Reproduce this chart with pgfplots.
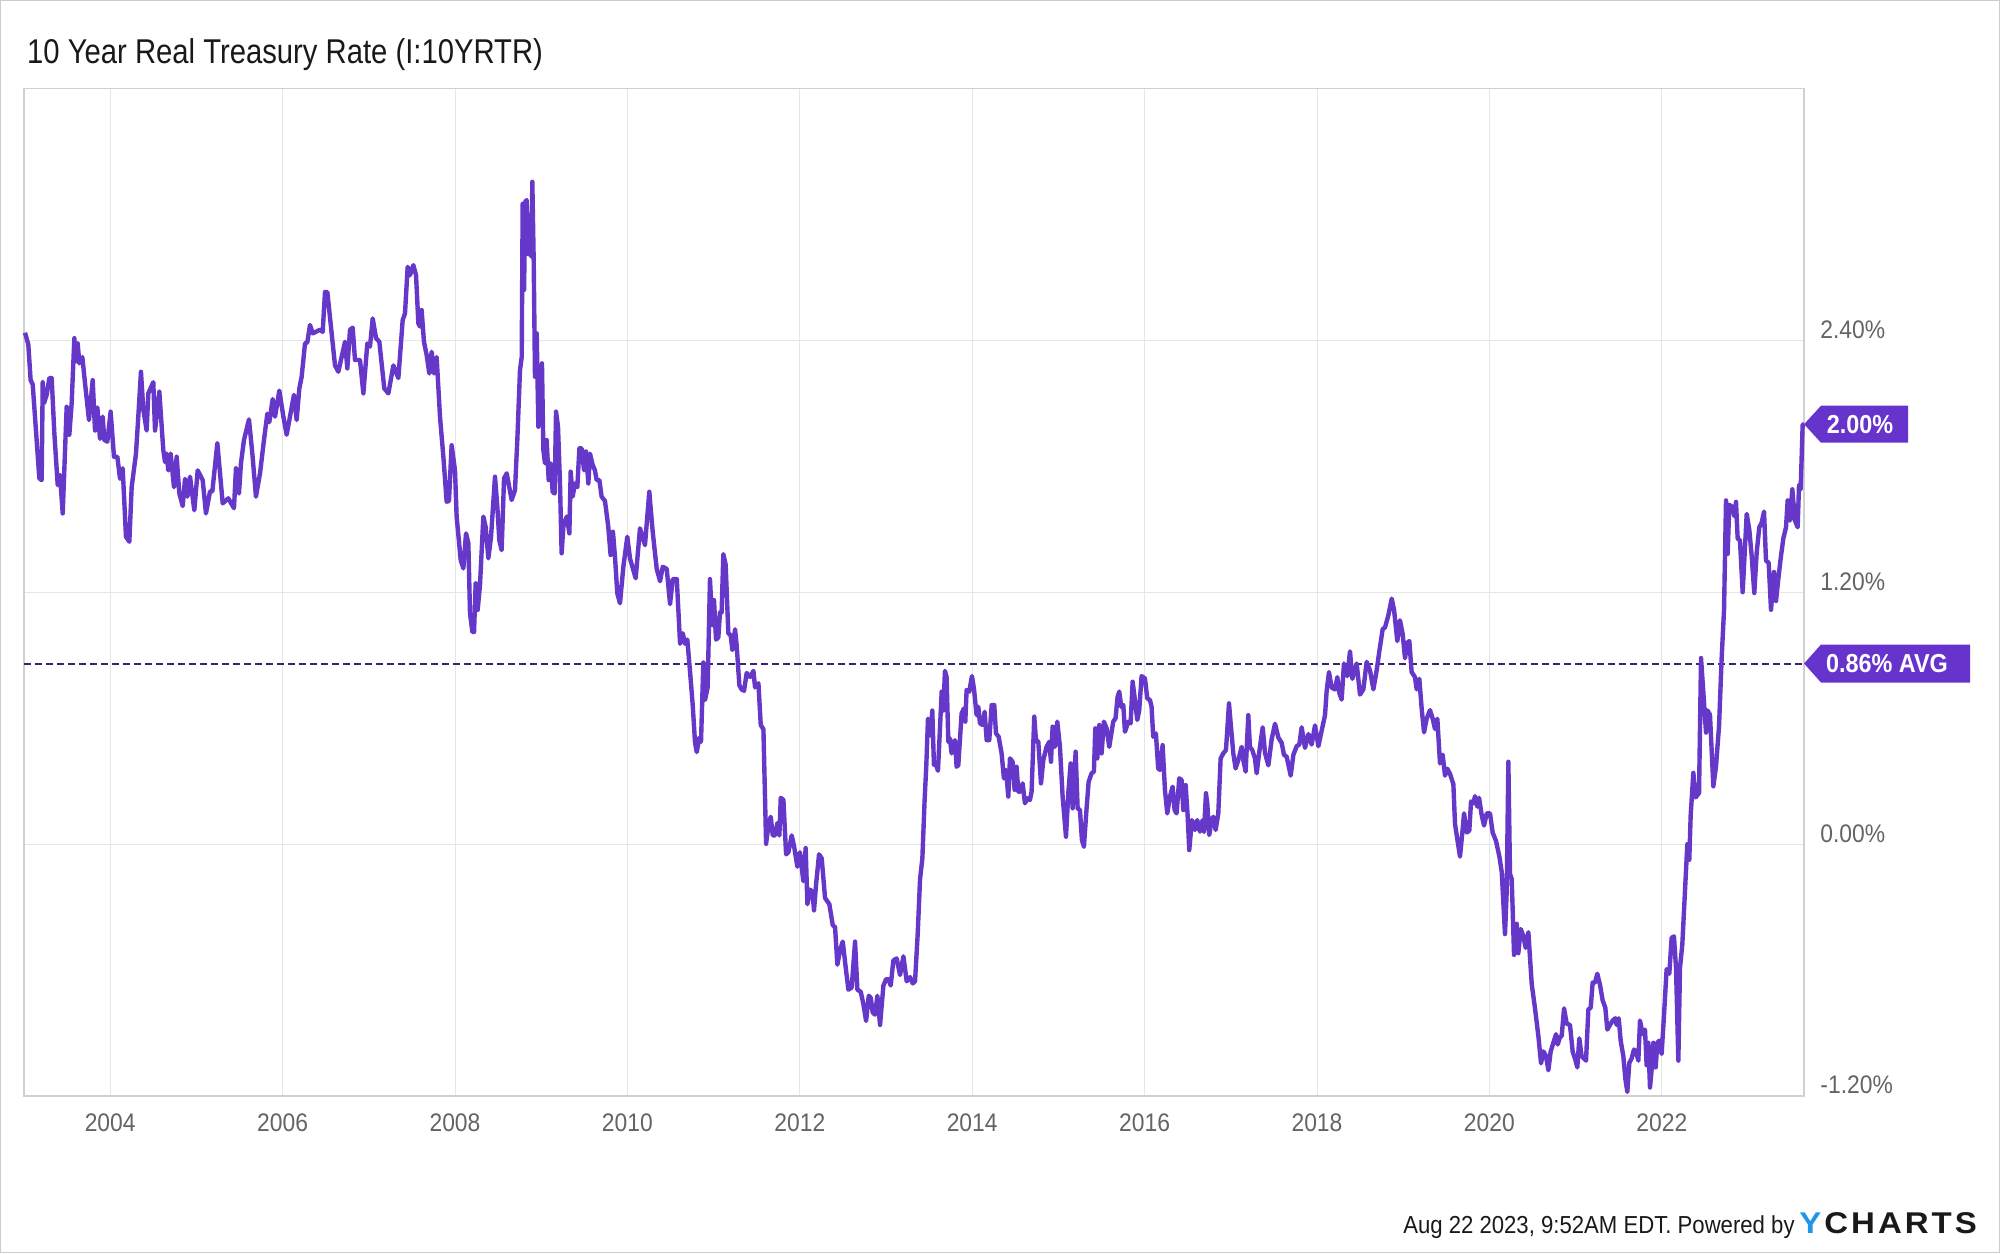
\documentclass[border=0pt]{standalone}
\usepackage{pgfplots}
\pgfplotsset{compat=1.18}
\usepackage{fontspec}
\setmainfont{Liberation Sans}[FakeStretch=0.9]
\newfontfamily\titlefont{Liberation Sans}[FakeStretch=0.85]
\newfontfamily\logofont{Liberation Sans}[FakeStretch=1.1]
\definecolor{ycline}{RGB}{102,56,201}
\definecolor{ycbox}{RGB}{102,51,204}
\definecolor{ycavg}{RGB}{58,36,110}
\definecolor{ycgrid}{RGB}{230,230,230}
\definecolor{ycframe}{RGB}{208,208,208}
\definecolor{yctick}{RGB}{100,100,100}
\definecolor{ycblue}{RGB}{33,150,230}
\begin{document}
\begin{tikzpicture}
\useasboundingbox (0,0) rectangle (1000pt,626.5pt);
\draw[black!20, line width=0.6pt] (0.3pt,0.3pt) rectangle (999.7pt,626.2pt);
\begin{axis}[
  at={(12pt,78.55pt)}, anchor=south west,
  width=890pt, height=503.75pt, scale only axis,
  xmin=2003, xmax=2023.65, ymin=-1.2, ymax=3.6,
  xtick={2004,2006,2008,2010,2012,2014,2016,2018,2020,2022},
  xticklabels={2004,2006,2008,2010,2012,2014,2016,2018,2020,2022},
  ytick={-1.2,0,1.2,2.4},
  yticklabels={-1.20\%,0.00\%,1.20\%,2.40\%},
  yticklabel pos=right,
  major tick length=0pt,
  grid=major, grid style={ycgrid, line width=0.5pt},
  axis line style={ycframe, line width=0.6pt},
  tick label style={font=\fontsize{12.7}{15}\selectfont, text=yctick},
  xticklabel style={anchor=base, inner sep=0pt, yshift=-17.9pt},
  yticklabel style={anchor=base west, inner sep=0pt, xshift=8pt, yshift=1pt},
  clip=false,
]
\addplot[ycavg, line width=1pt, dash pattern=on 3.3pt off 2.2pt] coordinates {(2003,0.86) (2023.65,0.86)};
\addplot[ycline, line width=2.2pt, line join=round, mark=none] table {
x y
2003.012 2.436
2003.050 2.38
2003.077 2.21
2003.101 2.19
2003.178 1.742
2003.205 1.734
2003.217 2.20
2003.232 2.10
2003.263 2.14
2003.294 2.22
2003.321 2.22
2003.352 1.957
2003.391 1.71
2003.418 1.758
2003.449 1.575
2003.495 2.083
2003.526 1.95
2003.553 2.10
2003.584 2.41
2003.603 2.30
2003.623 2.385
2003.642 2.29
2003.677 2.32
2003.708 2.195
2003.754 2.02
2003.797 2.21
2003.824 1.97
2003.851 2.08
2003.882 1.93
2003.913 2.036
2003.932 1.925
2003.967 1.917
2004.005 2.06
2004.044 1.845
2004.083 1.845
2004.114 1.74
2004.145 1.79
2004.183 1.464
2004.222 1.44
2004.249 1.70
2004.299 1.86
2004.326 2.036
2004.357 2.25
2004.384 2.07
2004.423 1.97
2004.442 2.147
2004.500 2.20
2004.520 1.97
2004.570 2.155
2004.616 1.877
2004.636 1.82
2004.655 1.86
2004.674 1.78
2004.701 1.86
2004.740 1.70
2004.771 1.845
2004.802 1.67
2004.841 1.61
2004.868 1.74
2004.895 1.655
2004.926 1.75
2004.976 1.59
2005.015 1.78
2005.073 1.734
2005.111 1.575
2005.158 1.68
2005.185 1.68
2005.243 1.91
2005.305 1.623
2005.370 1.647
2005.436 1.60
2005.459 1.79
2005.494 1.67
2005.517 1.814
2005.552 1.925
2005.610 2.023
2005.649 1.86
2005.691 1.655
2005.738 1.766
2005.784 1.925
2005.823 2.05
2005.846 2.01
2005.885 2.12
2005.912 2.036
2005.962 2.16
2006.009 2.036
2006.047 1.95
2006.132 2.14
2006.163 2.02
2006.194 2.17
2006.221 2.226
2006.260 2.385
2006.287 2.39
2006.318 2.473
2006.349 2.433
2006.434 2.45
2006.465 2.44
2006.492 2.63
2006.519 2.63
2006.608 2.28
2006.647 2.25
2006.724 2.393
2006.751 2.266
2006.782 2.45
2006.813 2.46
2006.840 2.306
2006.898 2.306
2006.937 2.147
2006.983 2.385
2007.014 2.37
2007.045 2.504
2007.084 2.41
2007.122 2.393
2007.180 2.17
2007.227 2.147
2007.285 2.28
2007.343 2.22
2007.393 2.496
2007.420 2.528
2007.451 2.75
2007.478 2.71
2007.517 2.758
2007.548 2.71
2007.575 2.48
2007.594 2.465
2007.613 2.544
2007.640 2.393
2007.671 2.33
2007.702 2.242
2007.729 2.345
2007.756 2.242
2007.787 2.32
2007.826 2.036
2007.865 1.845
2007.903 1.631
2007.930 1.634
2007.961 1.90
2008.000 1.78
2008.019 1.56
2008.066 1.353
2008.097 1.313
2008.128 1.48
2008.155 1.433
2008.174 1.10
2008.202 1.01
2008.221 1.01
2008.240 1.242
2008.263 1.115
2008.290 1.234
2008.329 1.56
2008.356 1.51
2008.387 1.361
2008.418 1.464
2008.464 1.75
2008.491 1.607
2008.514 1.448
2008.541 1.40
2008.569 1.742
2008.600 1.766
2008.657 1.639
2008.696 1.686
2008.723 1.925
2008.754 2.258
2008.774 2.32
2008.785 3.05
2008.801 2.64
2008.816 3.06
2008.831 3.068
2008.851 2.81
2008.870 2.94
2008.886 2.80
2008.897 3.155
2008.913 2.78
2008.928 2.226
2008.948 2.433
2008.967 1.988
2008.986 2.115
2009.009 2.29
2009.025 1.877
2009.044 1.814
2009.063 1.925
2009.087 1.734
2009.110 1.814
2009.133 1.678
2009.156 1.67
2009.172 2.06
2009.195 1.988
2009.218 1.718
2009.237 1.385
2009.257 1.512
2009.296 1.56
2009.327 1.48
2009.342 1.774
2009.365 1.655
2009.392 1.718
2009.419 1.70
2009.443 1.885
2009.470 1.885
2009.497 1.78
2009.520 1.87
2009.547 1.718
2009.566 1.86
2009.597 1.806
2009.624 1.78
2009.643 1.734
2009.675 1.734
2009.701 1.655
2009.740 1.634
2009.778 1.512
2009.805 1.377
2009.832 1.488
2009.856 1.369
2009.883 1.194
2009.914 1.147
2009.953 1.32
2009.999 1.464
2010.030 1.361
2010.096 1.266
2010.146 1.504
2010.204 1.424
2010.254 1.678
2010.293 1.49
2010.340 1.311
2010.379 1.252
2010.410 1.321
2010.456 1.311
2010.495 1.143
2010.526 1.262
2010.573 1.262
2010.611 0.954
2010.642 1.004
2010.669 0.954
2010.695 0.974
2010.726 0.825
2010.757 0.666
2010.784 0.487
2010.804 0.438
2010.835 0.507
2010.854 0.487
2010.881 0.865
2010.900 0.686
2010.931 0.746
2010.958 1.262
2010.985 1.043
2011.005 1.162
2011.028 0.974
2011.055 0.984
2011.074 1.103
2011.093 1.103
2011.113 1.381
2011.140 1.331
2011.171 1.004
2011.198 0.994
2011.218 0.924
2011.249 1.023
2011.268 0.944
2011.299 0.756
2011.326 0.736
2011.353 0.73
2011.384 0.815
2011.423 0.796
2011.462 0.825
2011.481 0.746
2011.520 0.766
2011.547 0.567
2011.578 0.547
2011.609 0.001
2011.636 0.09
2011.663 0.13
2011.686 0.041
2011.713 0.041
2011.740 0.10
2011.763 0.041
2011.779 0.22
2011.810 0.21
2011.841 -0.049
2011.868 -0.039
2011.906 0.041
2011.933 -0.009
2011.972 -0.108
2012.002 -0.039
2012.041 -0.177
2012.068 -0.019
2012.088 -0.287
2012.119 -0.217
2012.146 -0.227
2012.165 -0.316
2012.188 -0.197
2012.223 -0.049
2012.254 -0.068
2012.293 -0.257
2012.343 -0.287
2012.382 -0.386
2012.409 -0.396
2012.436 -0.575
2012.467 -0.505
2012.498 -0.465
2012.537 -0.604
2012.564 -0.694
2012.602 -0.684
2012.641 -0.465
2012.668 -0.694
2012.707 -0.704
2012.738 -0.763
2012.769 -0.843
2012.800 -0.723
2012.823 -0.733
2012.846 -0.803
2012.873 -0.813
2012.900 -0.723
2012.931 -0.862
2012.970 -0.674
2013.001 -0.644
2013.028 -0.644
2013.055 -0.674
2013.085 -0.555
2013.124 -0.545
2013.163 -0.624
2013.202 -0.535
2013.240 -0.654
2013.279 -0.634
2013.310 -0.664
2013.337 -0.654
2013.368 -0.426
2013.395 -0.168
2013.422 -0.068
2013.448 0.21
2013.467 0.368
2013.487 0.597
2013.518 0.517
2013.537 0.636
2013.556 0.378
2013.580 0.378
2013.603 0.349
2013.646 0.726
2013.665 0.636
2013.684 0.825
2013.703 0.796
2013.723 0.487
2013.742 0.503
2013.761 0.432
2013.800 0.495
2013.819 0.368
2013.839 0.376
2013.877 0.622
2013.904 0.646
2013.920 0.583
2013.935 0.734
2013.966 0.726
2013.997 0.80
2014.020 0.742
2014.051 0.614
2014.071 0.654
2014.090 0.575
2014.121 0.567
2014.144 0.630
2014.168 0.495
2014.198 0.495
2014.226 0.662
2014.256 0.662
2014.276 0.527
2014.307 0.511
2014.341 0.432
2014.368 0.313
2014.392 0.353
2014.419 0.226
2014.438 0.408
2014.469 0.392
2014.492 0.258
2014.515 0.368
2014.535 0.250
2014.562 0.250
2014.585 0.289
2014.612 0.194
2014.639 0.218
2014.670 0.210
2014.689 0.250
2014.720 0.607
2014.740 0.495
2014.767 0.487
2014.798 0.289
2014.825 0.40
2014.863 0.463
2014.894 0.487
2014.914 0.392
2014.933 0.559
2014.960 0.463
2014.987 0.583
2015.018 0.463
2015.049 0.226
2015.088 0.035
2015.115 0.242
2015.142 0.384
2015.165 0.170
2015.200 0.440
2015.223 0.170
2015.250 0.162
2015.273 0.019
2015.296 -0.013
2015.327 0.170
2015.351 0.297
2015.385 0.337
2015.412 0.345
2015.428 0.551
2015.451 0.408
2015.474 0.567
2015.501 0.432
2015.528 0.583
2015.559 0.551
2015.590 0.463
2015.636 0.583
2015.663 0.599
2015.687 0.702
2015.706 0.726
2015.729 0.654
2015.753 0.662
2015.772 0.535
2015.811 0.583
2015.838 0.575
2015.861 0.773
2015.888 0.686
2015.915 0.591
2015.938 0.638
2015.965 0.80
2016.004 0.789
2016.031 0.694
2016.062 0.686
2016.081 0.654
2016.100 0.511
2016.131 0.527
2016.158 0.36
2016.178 0.353
2016.209 0.471
2016.236 0.258
2016.263 0.146
2016.294 0.226
2016.325 0.273
2016.348 0.162
2016.371 0.146
2016.402 0.313
2016.429 0.305
2016.449 0.162
2016.476 0.281
2016.499 0.138
2016.518 -0.029
2016.549 0.114
2016.584 0.067
2016.611 0.114
2016.642 0.059
2016.673 0.114
2016.689 0.059
2016.712 0.242
2016.727 0.194
2016.750 0.043
2016.777 0.114
2016.797 0.130
2016.824 0.067
2016.855 0.146
2016.882 0.408
2016.913 0.432
2016.944 0.448
2016.979 0.670
2017.002 0.559
2017.029 0.432
2017.056 0.36
2017.087 0.40
2017.126 0.463
2017.145 0.40
2017.172 0.345
2017.203 0.614
2017.222 0.463
2017.249 0.448
2017.280 0.408
2017.300 0.337
2017.331 0.44
2017.370 0.556
2017.397 0.433
2017.436 0.375
2017.474 0.499
2017.513 0.573
2017.552 0.507
2017.590 0.482
2017.617 0.425
2017.648 0.416
2017.695 0.326
2017.726 0.425
2017.764 0.466
2017.795 0.474
2017.822 0.556
2017.861 0.458
2017.900 0.524
2017.938 0.474
2017.977 0.565
2018.016 0.466
2018.054 0.54
2018.093 0.614
2018.112 0.729
2018.139 0.819
2018.170 0.745
2018.209 0.737
2018.236 0.795
2018.259 0.72
2018.286 0.688
2018.313 0.86
2018.352 0.8
2018.383 0.918
2018.410 0.787
2018.460 0.86
2018.499 0.712
2018.538 0.737
2018.576 0.868
2018.615 0.827
2018.654 0.737
2018.692 0.827
2018.723 0.918
2018.762 1.024
2018.789 1.032
2018.828 1.09
2018.867 1.169
2018.894 1.115
2018.932 0.967
2018.963 1.066
2018.994 1.0
2019.021 0.885
2019.048 0.959
2019.071 0.967
2019.098 0.819
2019.137 0.795
2019.156 0.737
2019.187 0.787
2019.214 0.647
2019.242 0.532
2019.272 0.597
2019.311 0.638
2019.342 0.597
2019.369 0.548
2019.396 0.597
2019.427 0.384
2019.458 0.425
2019.485 0.326
2019.512 0.359
2019.543 0.334
2019.582 0.285
2019.601 0.096
2019.628 0.022
2019.659 -0.06
2019.686 0.055
2019.706 0.146
2019.737 0.055
2019.767 0.064
2019.787 0.203
2019.814 0.194
2019.833 0.228
2019.860 0.178
2019.880 0.22
2019.911 0.137
2019.938 0.088
2019.969 0.146
2020.007 0.146
2020.038 0.055
2020.077 0.014
2020.116 -0.06
2020.143 -0.133
2020.181 -0.429
2020.201 -0.224
2020.220 0.392
2020.239 -0.142
2020.259 -0.167
2020.286 -0.528
2020.317 -0.38
2020.336 -0.52
2020.363 -0.405
2020.394 -0.438
2020.421 -0.495
2020.452 -0.42
2020.491 -0.667
2020.529 -0.783
2020.568 -0.914
2020.599 -1.045
2020.626 -0.988
2020.657 -1.01
2020.684 -1.078
2020.711 -0.988
2020.742 -0.947
2020.773 -0.906
2020.792 -0.955
2020.819 -0.92
2020.839 -0.914
2020.866 -0.783
2020.897 -0.856
2020.935 -0.862
2020.966 -0.99
2020.993 -1.022
2021.020 -1.064
2021.043 -0.926
2021.070 -1.011
2021.121 -1.032
2021.148 -0.788
2021.175 -0.78
2021.198 -0.66
2021.225 -0.66
2021.252 -0.618
2021.283 -0.671
2021.314 -0.745
2021.345 -0.78
2021.368 -0.884
2021.399 -0.862
2021.430 -0.841
2021.461 -0.83
2021.476 -0.862
2021.500 -0.83
2021.523 -0.937
2021.554 -1.011
2021.577 -1.118
2021.600 -1.181
2021.623 -1.043
2021.650 -1.022
2021.677 -0.979
2021.701 -0.99
2021.728 -1.032
2021.747 -0.841
2021.778 -0.905
2021.805 -0.884
2021.824 -1.054
2021.844 -0.947
2021.863 -1.16
2021.882 -1.075
2021.902 -0.947
2021.929 -1.064
2021.948 -0.947
2021.971 -0.937
2021.998 -1.0
2022.025 -0.82
2022.056 -0.596
2022.087 -0.618
2022.114 -0.447
2022.141 -0.44
2022.165 -0.59
2022.192 -1.032
2022.211 -0.59
2022.238 -0.479
2022.269 -0.224
2022.296 -0.001
2022.319 -0.075
2022.335 0.137
2022.366 0.339
2022.393 0.222
2022.432 0.243
2022.455 0.886
2022.482 0.722
2022.513 0.531
2022.528 0.637
2022.559 0.616
2022.598 0.275
2022.629 0.371
2022.664 0.562
2022.694 0.882
2022.722 1.116
2022.745 1.637
2022.764 1.382
2022.783 1.616
2022.818 1.606
2022.841 1.562
2022.861 1.63
2022.880 1.456
2022.907 1.446
2022.938 1.2
2022.957 1.35
2022.985 1.573
2023.015 1.498
2023.043 1.371
2023.073 1.196
2023.101 1.39
2023.131 1.509
2023.158 1.53
2023.186 1.584
2023.209 1.35
2023.240 1.34
2023.267 1.116
2023.302 1.296
2023.325 1.158
2023.352 1.264
2023.379 1.36
2023.410 1.456
2023.441 1.509
2023.460 1.637
2023.487 1.541
2023.514 1.69
2023.545 1.541
2023.576 1.509
2023.592 1.711
2023.611 1.69
2023.634 1.998
2023.650 2.00
};
\fill[ycbox] (axis cs:2023.65,2.0) -- ++(8.5pt,9.25pt) -- ++(43.5pt,0pt) -- ++(0pt,-18.5pt) -- ++(-43.5pt,0pt) -- cycle;
\node[anchor=base, inner sep=0pt, text=white, font=\bfseries\fontsize{13}{15}\selectfont] at ([xshift=28pt,yshift=-4.6pt]axis cs:2023.65,2.0) {2.00\%};
\fill[ycbox] (axis cs:2023.65,0.86) -- ++(8.5pt,9.5pt) -- ++(74.5pt,0pt) -- ++(0pt,-19pt) -- ++(-74.5pt,0pt) -- cycle;
\node[anchor=base, inner sep=0pt, text=white, font=\bfseries\fontsize{13}{15}\selectfont] at ([xshift=41.5pt,yshift=-4.6pt]axis cs:2023.65,0.86) {0.86\% AVG};
\end{axis}
\node[anchor=base west, inner sep=0pt, text=black!90, font=\titlefont\fontsize{17.2}{20}\selectfont] at (13.4pt,594.5pt) {10 Year Real Treasury Rate (I:10YRTR)};
\node[anchor=base east, inner sep=0pt, text=black!90, font=\fontsize{12.3}{14}\selectfont] at (897.5pt,10pt) {Aug 22 2023, 9:52AM EDT. Powered by};
\node[anchor=base west, inner sep=0pt, text=black!90, font=\logofont\bfseries\fontsize{15}{17}\selectfont] at (899.5pt,10pt) {\textcolor{ycblue}{Y}\hspace{1.5pt}C\hspace{1.5pt}H\hspace{1.5pt}A\hspace{1.5pt}R\hspace{1.5pt}T\hspace{1.5pt}S};
\end{tikzpicture}
\end{document}
